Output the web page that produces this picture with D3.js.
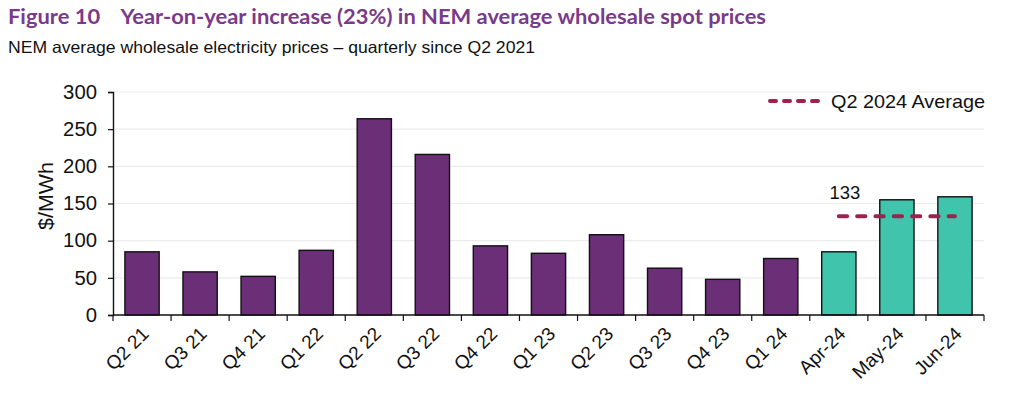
<!DOCTYPE html>
<html>
<head>
<meta charset="utf-8">
<script src="https://cdn.jsdelivr.net/npm/d3@7"></script>
<style>
  body { margin: 0; background: #fff; }
  svg { display: block; font-family: "Liberation Sans", Arial, sans-serif; }
</style>
</head>
<body>
<svg id="chart" width="1024" height="395"></svg>
<script>
// data
const categories = ["Q2 21", "Q3 21", "Q4 21", "Q1 22", "Q2 22", "Q3 22", "Q4 22",
                    "Q1 23", "Q2 23", "Q3 23", "Q4 23", "Q1 24", "Apr-24", "May-24", "Jun-24"];
const prices = [85, 58, 52, 87, 264, 216, 93, 83, 108, 63, 48, 76, 85, 155, 159];
const monthly = ["Apr-24", "May-24", "Jun-24"];
const q2Average = 133;
const yTicks = [0, 50, 100, 150, 200, 250, 300];

const purple = "#6b2f77";
const teal = "#40c4ac";
const avgColor = "#9b2350";

const svg = d3.select("#chart");
const plotLeft = 113, plotRight = 984, plotTop = 92, plotBottom = 315;

const x = d3.scaleBand().domain(categories).range([plotLeft, plotRight]).paddingInner(0.41).paddingOuter(0.205);
const y = d3.scaleLinear().domain([0, 300]).range([plotBottom, plotTop]);

// titles
svg.append("text")
   .attr("x", 8).attr("y", 24)
   .attr("fill", "#7a3a8b")
   .attr("font-family", "Lato, 'Liberation Sans', sans-serif")
   .attr("font-weight", "bold")
   .attr("font-size", 20)
   .attr("textLength", 758)
   .attr("lengthAdjust", "spacingAndGlyphs")
   .attr("xml:space", "preserve")
   .text("Figure 10    Year-on-year increase (23%) in NEM average wholesale spot prices");

svg.append("text")
   .attr("x", 8).attr("y", 53)
   .attr("fill", "#111")
   .attr("font-size", 16.5)
   .attr("textLength", 527)
   .attr("lengthAdjust", "spacingAndGlyphs")
   .text("NEM average wholesale electricity prices \u2013 quarterly since Q2 2021");

// grid
svg.append("g").selectAll("line")
   .data(yTicks.filter(d => d > 0))
   .enter().append("line")
   .attr("x1", plotLeft).attr("x2", plotRight)
   .attr("y1", d => y(d)).attr("y2", d => y(d))
   .attr("stroke", "#ececec").attr("stroke-width", 1.2);

// bars
svg.append("g").selectAll("rect")
   .data(categories)
   .enter().append("rect")
   .attr("x", d => x(d))
   .attr("y", (d, i) => y(prices[i]))
   .attr("width", x.bandwidth())
   .attr("height", (d, i) => y(0) - y(prices[i]))
   .attr("fill", d => monthly.includes(d) ? teal : purple)
   .attr("stroke", "#111").attr("stroke-width", 1.4);

// y axis
const yAxis = svg.append("g")
   .attr("transform", `translate(${plotLeft},0)`)
   .call(d3.axisLeft(y).tickValues(yTicks).tickSize(5).tickPadding(11));
yAxis.select(".domain").attr("stroke", "#111").attr("stroke-width", 1.4);
yAxis.selectAll(".tick line").attr("stroke", "#111").attr("stroke-width", 1.2);
yAxis.selectAll("text").attr("font-size", 19.5).attr("fill", "#111")
   .attr("font-family", "'Liberation Sans', Arial, sans-serif")
   .attr("textLength", d => String(d).length * 11.3)
   .attr("lengthAdjust", "spacingAndGlyphs");

svg.append("text")
   .attr("transform", "translate(53,196) rotate(-90)")
   .attr("text-anchor", "middle")
   .attr("font-size", 21).attr("fill", "#111")
   .attr("textLength", 68)
   .attr("lengthAdjust", "spacingAndGlyphs")
   .text("$/MWh");

// x axis with ticks between bars
const xAxis = svg.append("g").attr("transform", `translate(0,${plotBottom})`);
xAxis.append("line").attr("x1", plotLeft).attr("x2", plotRight)
   .attr("stroke", "#111").attr("stroke-width", 1.4);
const step = x.step();
xAxis.selectAll(".sep")
   .data(d3.range(categories.length + 1))
   .enter().append("line")
   .attr("x1", i => plotLeft + i * step).attr("x2", i => plotLeft + i * step)
   .attr("y1", 0).attr("y2", 6)
   .attr("stroke", "#111").attr("stroke-width", 1.2);
xAxis.selectAll(".lab")
   .data(categories)
   .enter().append("text")
   .attr("text-anchor", "end")
   .attr("font-size", 19).attr("fill", "#111")
   .attr("transform", d => `translate(${x(d) + x.bandwidth() / 2 + 8},${20}) rotate(-45)`)
   .text(d => d);

// Q2 2024 average line
const xs = d => x(d) + x.bandwidth() / 2;
svg.append("line")
   .attr("x1", xs("Apr-24")).attr("x2", xs("Jun-24"))
   .attr("y1", y(q2Average)).attr("y2", y(q2Average))
   .attr("stroke", avgColor).attr("stroke-width", 4)
   .attr("stroke-linecap", "round")
   .attr("stroke-dasharray", "8.3,10");

svg.append("text")
   .attr("x", xs("Apr-24") + 6).attr("y", y(q2Average) - 17)
   .attr("text-anchor", "middle")
   .attr("font-size", 18.5).attr("fill", "#111")
   .text(q2Average);

// legend
svg.append("line")
   .attr("x1", 770).attr("x2", 824).attr("y1", 101).attr("y2", 101)
   .attr("stroke", avgColor).attr("stroke-width", 4)
   .attr("stroke-linecap", "round")
   .attr("stroke-dasharray", "6,8");
svg.append("text")
   .attr("x", 831).attr("y", 107.5)
   .attr("font-size", 18.5).attr("fill", "#111")
   .attr("textLength", 154)
   .attr("lengthAdjust", "spacingAndGlyphs")
   .text("Q2 2024 Average");
</script>
</body>
</html>
